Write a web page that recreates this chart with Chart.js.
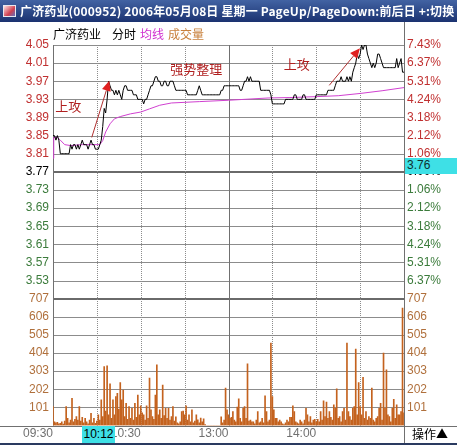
<!DOCTYPE html>
<html><head><meta charset="utf-8">
<script src="https://cdn.jsdelivr.net/npm/chart.js@4.4.0/dist/chart.umd.min.js"></script>
<style>
html,body{margin:0;padding:0;background:#fff;}
#wrap{position:relative;width:457px;height:445px;overflow:hidden;background:#fff;}
#c{position:absolute;left:0;top:0;}
#title{position:absolute;left:0;top:0;width:457px;height:22px;background:linear-gradient(#4263a3,#1b3270);color:#fff;font:bold 12px 'Noto Sans CJK SC',sans-serif;white-space:nowrap;}
#title span{position:absolute;left:20px;top:3px;line-height:16px;letter-spacing:0.15px;}
#icon{position:absolute;left:3px;top:5px;width:13px;height:12px;background:linear-gradient(135deg,#ffe0e0,#d04050 60%,#6070c0);border:1px solid #e8e8f0;box-sizing:border-box;}
.hdr{position:absolute;top:27px;font:12px 'Noto Sans CJK SC',sans-serif;line-height:14px;white-space:nowrap;}
#cur{position:absolute;left:82px;top:426px;width:33px;height:17px;background:#3ee0e6;color:#000;font:12px 'Liberation Sans',Arial,sans-serif;line-height:17px;text-align:center;}
#op{position:absolute;left:412px;top:426px;font:12px 'Noto Sans CJK SC',sans-serif;line-height:16px;color:#000;white-space:nowrap;}
#prev{position:absolute;left:405px;top:158px;width:52px;height:16px;background:#3ee0e6;color:#103030;font:12px 'Liberation Sans',Arial,sans-serif;line-height:15px;padding-left:2px;box-sizing:border-box;}
#bot{position:absolute;left:0;top:443px;width:457px;height:2px;background:#2a3a60;}
</style></head>
<body>
<div id="wrap">
<canvas id="c" width="457" height="445"></canvas>
<div id="title"><div id="icon"></div><span>广济药业(000952) 2006年05月08日 星期一 PageUp/PageDown:前后日 +:切换</span></div>
<div class="hdr" style="left:53px;color:#000">广济药业</div>
<div class="hdr" style="left:112px;color:#000">分时</div>
<div class="hdr" style="left:140px;color:#d030d0">均线</div>
<div class="hdr" style="left:168px;color:#c8803c">成交量</div>
<div id="prev">3.76</div>
<div id="cur">10:12</div>
<div id="op">操作▲</div>
<div id="bot"></div>
</div>
<script>
// ---- data ----
const prevClose = 3.77;
const timeTickMinutes = [0, 60, 120, 180];
const timeLabels = ['09:30', '10:30', '13:00', '14:00'];
const priceTicks = [4.05,4.01,3.97,3.93,3.89,3.85,3.81,3.77,3.73,3.69,3.65,3.61,3.57,3.53];
const volumeTicks = [707,606,505,404,303,202,101];

const priceValues = [
 3.85,3.85,3.84,3.85,3.84,3.81,3.81,3.81,3.81,3.81,
 3.81,3.81,3.83,3.82,3.83,3.83,3.82,3.83,3.82,3.83,
 3.84,3.83,3.83,3.83,3.82,3.83,3.84,3.83,3.83,3.82,
 3.82,3.82,3.83,3.84,3.87,3.91,3.90,3.93,3.97,3.96,
 3.95,3.95,3.94,3.95,3.94,3.95,3.94,3.93,3.95,3.96,
 3.96,3.95,3.95,3.95,3.95,3.94,3.94,3.94,3.93,3.93,
 3.93,3.93,3.92,3.93,3.93,3.94,3.95,3.96,3.96,3.97,
 3.98,3.98,3.97,3.97,3.96,3.96,3.97,3.97,3.96,3.96,
 3.97,3.97,3.97,3.96,3.95,3.95,3.95,3.95,3.95,3.95,
 3.95,3.95,3.94,3.94,3.94,3.94,3.94,3.94,3.94,3.95,
 3.96,3.95,3.94,3.94,3.94,3.94,3.94,3.94,3.94,3.94,
 3.94,3.94,3.94,3.94,3.94,3.95,3.95,3.96,3.96,3.96,
 3.96,3.96,3.96,3.96,3.96,3.96,3.96,3.96,3.95,3.95,
 3.96,3.97,3.97,3.98,3.97,3.98,3.97,3.97,3.97,3.97,
 3.97,3.97,3.95,3.95,3.95,3.95,3.95,3.95,3.95,3.94,
 3.92,3.92,3.92,3.92,3.92,3.92,3.92,3.92,3.92,3.93,
 3.93,3.93,3.93,3.93,3.93,3.94,3.94,3.93,3.93,3.93,
 3.93,3.94,3.94,3.93,3.93,3.93,3.93,3.93,3.93,3.93,
 3.94,3.94,3.94,3.94,3.94,3.94,3.94,3.94,3.95,3.95,
 3.95,3.95,3.95,3.96,3.97,3.97,3.97,3.98,3.97,3.97,
 3.97,3.98,3.97,3.98,3.97,3.99,4.00,4.01,4.03,4.02,
 4.03,4.05,4.04,4.05,4.05,4.03,4.02,4.01,4.00,4.01,
 4.00,4.01,4.03,4.03,4.02,4.01,4.00,4.00,4.00,4.00,
 4.00,4.00,4.00,4.00,4.00,4.02,4.00,4.01,4.02,3.99,
 3.99
];

const avgMinutes = [0, 0.5, 3, 5, 8, 12, 20, 32, 34, 36, 39, 42, 46, 53, 60, 66, 73, 81, 100, 120, 147, 162, 180, 195, 210, 225, 240];
const avgValues  = [3.80, 3.846, 3.846, 3.84, 3.83, 3.828, 3.83, 3.83, 3.839, 3.858, 3.876, 3.887, 3.892, 3.898, 3.902, 3.909, 3.917, 3.922, 3.925, 3.928, 3.933, 3.934, 3.936, 3.938, 3.943, 3.949, 3.956];

const volumeValues = [
 105,20,15,18,10,12,20,8,25,105,
 40,15,30,152,20,35,50,30,105,25,
 45,15,40,20,10,30,68,15,40,12,
 25,60,30,143,50,329,80,333,60,232,
 40,143,60,161,180,90,239,143,198,50,
 124,35,105,40,96,30,124,45,170,60,
 109,70,59,30,109,40,264,87,50,35,
 170,338,60,87,40,226,55,96,40,96,
 30,50,105,25,49,15,10,20,77,81,
 60,109,30,59,20,87,15,25,59,31,
 15,42,20,37,5,0,0,0,0,0,
 0,0,0,0,0,49,15,30,208,87,
 59,40,45,77,30,20,102,148,40,20,
 96,105,40,344,25,30,20,20,10,30,
 77,15,20,40,15,165,77,20,30,460,
 161,87,40,40,20,30,20,10,5,15,
 30,20,46,46,109,77,20,15,10,30,
 20,10,30,96,59,20,50,15,30,35,
 20,35,20,77,30,137,50,131,40,77,
 45,30,115,96,204,40,50,20,77,96,
 30,460,77,50,30,96,105,426,60,239,
 105,60,269,40,77,30,50,40,208,30,
 20,40,50,96,124,30,404,96,310,60,
 50,20,96,146,40,115,59,60,77,655,70
];

const annoTexts   = ['上攻', '强势整理', '上攻'];
const annoMinutes = [10.5, 98, 166.7];
const annoPrices  = [3.915, 3.997, 4.008];
const arrowFrom = [[26.5, 3.846], [188.9, 3.961]];
const arrowTo   = [[38.5, 3.971], [209.9, 4.043]];

// ---- drawing ----
const upColor = '#c03030', downColor = '#3b7b3b', volColor = '#b0703c';
function priceColor(v){ if (Math.abs(v - prevClose) < 1e-6) return '#000'; return v > prevClose ? upColor : downColor; }

const gridPlugin = {
  id: 'gridPlugin',
  beforeDatasetsDraw(chart) {
    const {ctx, chartArea: a, scales} = chart;
    const x = scales.x, y = scales.y, yv = scales.yv;
    ctx.save();
    const hline = (py, w, col) => {
      ctx.beginPath(); ctx.lineWidth = w; ctx.strokeStyle = col;
      const yy = w % 2 ? Math.round(py) + 0.5 : Math.round(py);
      ctx.moveTo(a.left, yy); ctx.lineTo(a.right, yy); ctx.stroke();
    };
    priceTicks.forEach(v => {
      if (Math.abs(v - prevClose) < 1e-6) hline(y.getPixelForValue(v), 2, '#6a6a6a');
      else hline(y.getPixelForValue(v), 1, '#8c8c8c');
    });
    volumeTicks.forEach((v, i) => {
      if (i === 0) hline(yv.getPixelForValue(v), 2, '#6a6a6a');
      else hline(yv.getPixelForValue(v), 1, '#8c8c8c');
    });
    ctx.beginPath(); ctx.lineWidth = 1; ctx.strokeStyle = '#707070';
    const by = Math.round(yv.getPixelForValue(0)) + 0.5;
    ctx.moveTo(0, by); ctx.lineTo(chart.width, by); ctx.stroke();
    for (let m = 0; m <= 240; m += 30) {
      const px = Math.round(x.getPixelForValue(m)) + 0.5;
      ctx.beginPath(); ctx.lineWidth = 1;
      if (m % 120 === 0) { ctx.setLineDash([]); ctx.strokeStyle = '#707070'; }
      else { ctx.setLineDash([1, 1]); ctx.strokeStyle = '#8c8c8c'; }
      const top = (m === 240) ? 22 : a.top;
      const bot = (m === 240) ? chart.height : a.bottom;
      ctx.moveTo(px, top); ctx.lineTo(px, bot); ctx.stroke();
    }
    ctx.setLineDash([]);
    ctx.font = '12px "Liberation Sans", Arial, sans-serif';
    ctx.fillStyle = volColor; ctx.textBaseline = 'middle';
    volumeTicks.forEach(v => {
      const py = yv.getPixelForValue(v);
      ctx.textAlign = 'right'; ctx.fillText(String(v), a.left - 4, py);
      ctx.textAlign = 'left'; ctx.fillText(String(v), a.right + 3, py);
    });
    ctx.restore();
  },
  afterDatasetsDraw(chart) {
    const {ctx, scales} = chart;
    const x = scales.x, y = scales.y;
    ctx.save();
    ctx.font = '13px "Noto Sans CJK SC", sans-serif';
    ctx.fillStyle = '#b02020'; ctx.textAlign = 'center'; ctx.textBaseline = 'middle';
    annoTexts.forEach((t, i) => ctx.fillText(t, x.getPixelForValue(annoMinutes[i]), y.getPixelForValue(annoPrices[i])));
    arrowFrom.forEach((f, i) => {
      const x0 = x.getPixelForValue(f[0]), y0 = y.getPixelForValue(f[1]);
      const x1 = x.getPixelForValue(arrowTo[i][0]), y1 = y.getPixelForValue(arrowTo[i][1]);
      const ang = Math.atan2(y1 - y0, x1 - x0);
      const L = 10, W = 4.5;
      const bx = x1 - L * Math.cos(ang), byy = y1 - L * Math.sin(ang);
      ctx.beginPath(); ctx.strokeStyle = '#b03030'; ctx.lineWidth = 1;
      ctx.moveTo(x0, y0); ctx.lineTo(bx, byy); ctx.stroke();
      ctx.beginPath(); ctx.fillStyle = '#e02020';
      ctx.moveTo(x1, y1);
      ctx.lineTo(bx + W * Math.sin(ang), byy - W * Math.cos(ang));
      ctx.lineTo(bx - W * Math.sin(ang), byy + W * Math.cos(ang));
      ctx.closePath(); ctx.fill();
    });
    ctx.restore();
  }
};

Chart.defaults.font.family = '"Liberation Sans", Arial, sans-serif';
Chart.defaults.font.size = 12;

new Chart(document.getElementById('c'), {
  type: 'bar',
  data: {
    datasets: [
      { type: 'line', label: '分时', data: priceValues.map((p, i) => ({x: i, y: p})), yAxisID: 'y',
        borderColor: '#000', borderWidth: 1, pointRadius: 0, tension: 0, order: 1 },
      { type: 'line', label: '均线', data: avgMinutes.map((m, i) => ({x: m, y: avgValues[i]})), yAxisID: 'y',
        borderColor: '#d040d0', borderWidth: 1, pointRadius: 0, tension: 0, order: 2 },
      { type: 'bar', label: '成交量', data: volumeValues.map((v, i) => ({x: i, y: v})), yAxisID: 'yv',
        backgroundColor: '#c4621e', barThickness: 1, borderWidth: 0, grouped: false, order: 3 }
    ]
  },
  options: {
    responsive: false, animation: false, devicePixelRatio: 1,
    layout: { padding: { left: 0, right: 0, top: 45, bottom: 0 } },
    plugins: { legend: { display: false }, tooltip: { enabled: false } },
    scales: {
      x: { type: 'linear', min: 0, max: 240, offset: false,
        grid: { display: false, drawTicks: false }, border: { display: false },
        afterBuildTicks: s => { s.ticks = timeTickMinutes.map(v => ({value: v})); },
        afterFit: s => { s.height = 19.5; },
        ticks: { autoSkip: false, maxRotation: 0, align: 'end', padding: 1, color: '#707070',
          callback: (v, i) => timeLabels[i] } },
      y: { type: 'linear', position: 'left', min: 3.21, max: 4.05,
        grid: { display: false, drawTicks: false }, border: { display: false },
        afterBuildTicks: s => { s.ticks = priceTicks.map(v => ({value: v})); },
        afterFit: s => { s.width = 53; },
        ticks: { padding: 4, color: c => priceColor(c.tick.value), callback: v => Number(v).toFixed(2) } },
      yr: { type: 'linear', position: 'right', min: 3.21, max: 4.05,
        grid: { display: false, drawTicks: false }, border: { display: false },
        afterBuildTicks: s => { s.ticks = priceTicks.map(v => ({value: v})); },
        afterFit: s => { s.width = 53; },
        ticks: { padding: 3, color: c => priceColor(c.tick.value),
          callback: v => (Math.abs(v - prevClose) / prevClose * 100).toFixed(2) + '%' } },
      yv: { type: 'linear', display: false, min: 0, max: volumeTicks[0] * 3 }
    }
  },
  plugins: [gridPlugin]
});
</script>
</body></html>
